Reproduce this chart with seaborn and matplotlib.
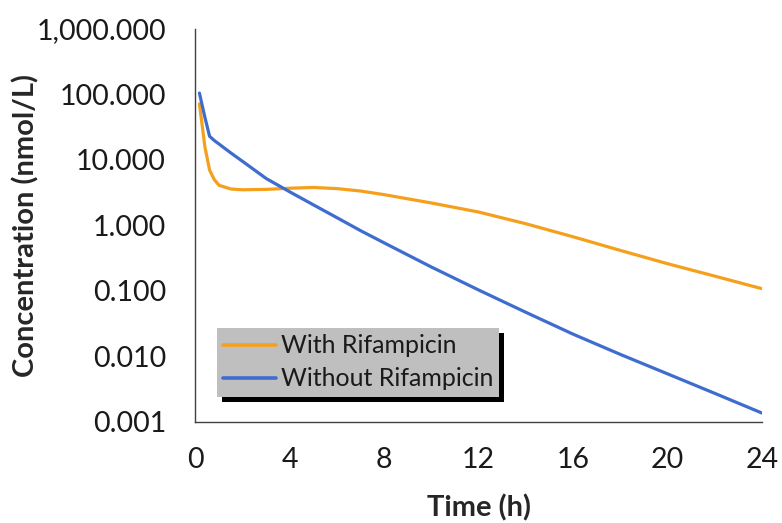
import numpy as np
import pandas as pd
import matplotlib
matplotlib.use("Agg")
import matplotlib.pyplot as plt
import matplotlib.ticker as mticker
from matplotlib.patches import Rectangle
import seaborn as sns

time_h = [0.17, 0.4, 0.6, 0.8, 1.0, 1.5, 2, 3, 4, 5, 6, 7, 8, 10, 12, 14, 16, 18, 20, 22, 24]
with_rif = [72, 16, 7.0, 5.0, 4.1, 3.6, 3.5, 3.55, 3.7, 3.8, 3.65, 3.35, 2.95, 2.2, 1.6,
            1.06, 0.67, 0.415, 0.26, 0.168, 0.108]
without_rif = [105, 45, 23, 19.8, 17.5, 12.8, 9.5, 5.2, 3.25, 2.06, 1.31, 0.83, 0.54, 0.231,
               0.103, 0.047, 0.0218, 0.0107, 0.0054, 0.00272, 0.00136]
series_names = ["With Rifampicin", "Without Rifampicin"]
x_ticks = [0, 4, 8, 12, 16, 20, 24]
y_ticks = [0.001, 0.01, 0.1, 1, 10, 100, 1000]

df = pd.concat([
    pd.DataFrame({"Time": time_h, "Conc": with_rif, "Series": series_names[0]}),
    pd.DataFrame({"Time": time_h, "Conc": without_rif, "Series": series_names[1]}),
])

sns.set_style("white")
plt.rcParams["font.family"] = ["Lato", "DejaVu Sans"]

fig = plt.figure(figsize=(7.82, 5.23), dpi=100)
ax = fig.add_axes([0.2499, 0.1935, 0.7245, 0.751])

palette = {series_names[0]: "#F5A01C", series_names[1]: "#3F6CCF"}
sns.lineplot(data=df, x="Time", y="Conc", hue="Series", palette=palette,
             linewidth=2.3, ax=ax, sort=False)

ax.set_yscale("log")
ax.set_ylim(0.001, 1000)
ax.set_xlim(0, 24)
ax.set_xticks(x_ticks)
ax.set_yticks(y_ticks)
ax.yaxis.set_minor_locator(mticker.NullLocator())
ax.yaxis.set_major_formatter(mticker.FuncFormatter(lambda v, p: f"{v:,.3f}"))

for s in ["top", "right"]:
    ax.spines[s].set_visible(False)
for s in ["left", "bottom"]:
    ax.spines[s].set_color("#404040")
    ax.spines[s].set_linewidth(1.0)
ax.tick_params(axis="both", which="major", direction="out", length=7.2, width=1.0,
               color="#404040", labelsize=20.5, labelcolor="#1a1a1a")
ax.tick_params(axis="x", pad=11)
ax.tick_params(axis="y", pad=14)

ax.set_xlabel("Time (h)", fontsize=21, fontweight="bold", labelpad=15)
ax.set_ylabel("Concentration (nmol/L)", fontsize=21, fontweight="bold", labelpad=-2.5)

leg = ax.legend(loc="upper left", bbox_to_anchor=(217 / 782, 1 - 328 / 523),
                bbox_transform=fig.transFigure, fontsize=18, frameon=True,
                facecolor="#BFBFBF", edgecolor="none", framealpha=1, fancybox=False,
                handlelength=2.1, handletextpad=0.2, borderpad=0.25, labelspacing=0.4,
                borderaxespad=0)
for line in leg.get_lines():
    line.set_linewidth(2.6)
for t in leg.get_texts():
    t.set_color("#1a1a1a")

fig.canvas.draw()
bb = leg.get_window_extent()
shadow = Rectangle((bb.x0 + 5, bb.y0 - 5), bb.width, bb.height, transform=None,
                   facecolor="black", edgecolor="none", zorder=4)
ax.add_artist(shadow)
leg.set_zorder(6)

fig.savefig("out.png", dpi=100)
